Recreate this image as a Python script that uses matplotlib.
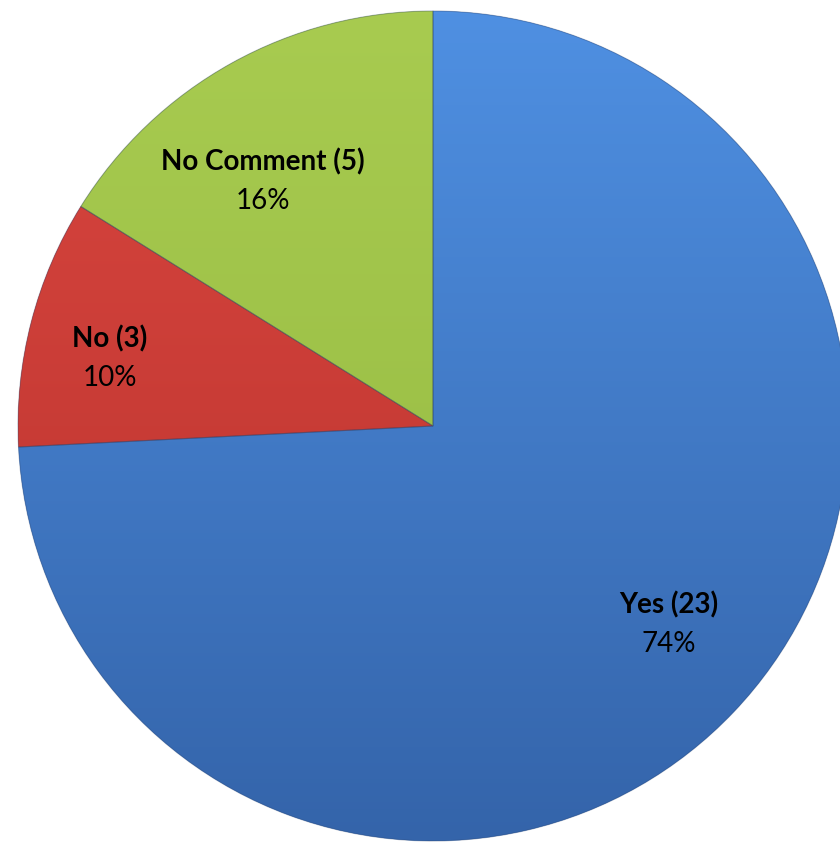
import matplotlib
matplotlib.use("Agg")
import matplotlib.pyplot as plt
import numpy as np
from matplotlib.colors import LinearSegmentedColormap
from matplotlib.patches import Wedge

categories = ["Yes", "No", "No Comment"]
counts = [23, 3, 5]
top_colors = ["#4f90e2", "#d9463f", "#a8cb50"]
bottom_colors = ["#3464aa", "#b8322d", "#93b840"]
label_pos = [(669, 605), (110, 339), (263, 162)]  # pixel positions of labels

W, H = 840, 844
fig = plt.figure(figsize=(W / 100, H / 100), dpi=100)
ax = fig.add_axes([0, 0, 1, 1])
ax.set_xlim(0, W)
ax.set_ylim(H, 0)
ax.set_aspect("equal")
ax.axis("off")

cx, cy, r = 433, 426, 415
total = sum(counts)
start = 90.0
for i, c in enumerate(counts):
    span = 360.0 * c / total
    # y axis is inverted, so screen angles are negated math angles
    t1 = -(start)
    t2 = -(start - span)
    wd = Wedge((cx, cy), r, t1, t2, facecolor=top_colors[i], edgecolor="none")
    ax.add_patch(wd)
    grad = np.linspace(0, 1, 256).reshape(-1, 1)
    cmap = LinearSegmentedColormap.from_list("g%d" % i, [top_colors[i], bottom_colors[i]])
    im = ax.imshow(grad, cmap=cmap, extent=(cx - r, cx + r, cy + r, cy - r),
                   aspect="auto", zorder=2)
    im.set_clip_path(wd)
    edge = Wedge((cx, cy), r, t1, t2, facecolor="none", edgecolor="#2a3f66",
                 linewidth=0.8, alpha=0.35, zorder=3)
    ax.add_patch(edge)
    start -= span

ax.set_xlim(0, W)
ax.set_ylim(H, 0)

font = ["Lato", "DejaVu Sans"]
for i, (cat, c) in enumerate(zip(categories, counts)):
    x, y = label_pos[i]
    pct = 100.0 * c / total
    ax.text(x, y, f"{cat} ({c})", ha="center", va="center", fontsize=20,
            fontweight="bold", family=font, color="black", zorder=5)
    ax.text(x, y + 39, f"{pct:.0f}%", ha="center", va="center", fontsize=20,
            family=font, color="black", zorder=5)

fig.savefig("out.png", dpi=100)
